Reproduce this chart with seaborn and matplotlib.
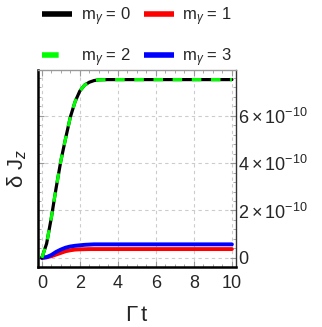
import numpy as np
import pandas as pd
import matplotlib
matplotlib.use('Agg')
import matplotlib.pyplot as plt
import seaborn as sns
from matplotlib.ticker import MultipleLocator, FuncFormatter

# time axis (Gamma t) and curves, in units of 1e-10
t_main = [0, 0.25, 0.5, 0.75, 1.0, 1.25, 1.5, 1.75, 2.0, 2.25, 2.5, 2.75, 3.0, 3.5, 4, 5, 6, 7, 8, 9, 10]
m0 = [0, 0.6, 1.7, 2.95, 4.1, 5.05, 5.95, 6.6, 7.05, 7.3, 7.42, 7.49, 7.52, 7.53, 7.53, 7.53, 7.53, 7.53, 7.53, 7.53, 7.53]
m1 = [0, 0.02, 0.07, 0.14, 0.21, 0.28, 0.32, 0.35, 0.36, 0.365, 0.37, 0.37, 0.37, 0.37, 0.37, 0.37, 0.37, 0.37, 0.37, 0.37, 0.37]
m2 = m0
m3 = [0, 0.03, 0.12, 0.25, 0.35, 0.43, 0.48, 0.51, 0.53, 0.55, 0.56, 0.57, 0.57, 0.57, 0.57, 0.57, 0.57, 0.57, 0.57, 0.57, 0.57]
labels = [r'm$_\gamma$ = 0', r'm$_\gamma$ = 1', r'm$_\gamma$ = 2', r'm$_\gamma$ = 3']
colors = ['black', '#ff0000', '#00ff00', '#0000ff']

sns.set_style('white')
plt.rcParams['font.family'] = ['Liberation Sans', 'DejaVu Sans']
plt.rcParams['mathtext.fontset'] = 'custom'
plt.rcParams['mathtext.rm'] = 'Liberation Sans'
plt.rcParams['mathtext.it'] = 'Liberation Sans:italic'
plt.rcParams['mathtext.sf'] = 'Liberation Sans'

df = pd.DataFrame({'t': t_main, 'm0': np.array(m0) * 1e-10, 'm1': np.array(m1) * 1e-10,
                   'm2': np.array(m2) * 1e-10, 'm3': np.array(m3) * 1e-10})

fig = plt.figure(figsize=(3.22, 3.27), dpi=100)
ax = fig.add_axes([0.117, 0.184, 0.615, 0.603])

sns.lineplot(data=df, x='t', y='m1', color=colors[1], lw=2.8, ax=ax, label=labels[1])
sns.lineplot(data=df, x='t', y='m3', color=colors[3], lw=2.8, ax=ax, label=labels[3])
sns.lineplot(data=df, x='t', y='m0', color=colors[0], lw=2.3, ax=ax, label=labels[0])
sns.lineplot(data=df, x='t', y='m2', color=colors[2], lw=2.3, ax=ax, label=labels[2],
             dashes=False)
ax.lines[-1].set_dashes([3.0, 3.0])

ax.set_xlim(-0.22, 10.2)
ax.set_ylim(-0.38e-10, 7.95e-10)

ax.xaxis.set_major_locator(MultipleLocator(2))
ax.xaxis.set_minor_locator(MultipleLocator(0.5))
ax.yaxis.set_major_locator(MultipleLocator(2e-10))
ax.yaxis.set_minor_locator(MultipleLocator(0.4e-10))

def yfmt(v, pos):
    k = int(round(v / 1e-10))
    if k == 0:
        return '0'
    return r'$%d\times10^{-10}$' % k

ax.yaxis.set_major_formatter(FuncFormatter(yfmt))
ax.yaxis.tick_right()
ax.tick_params(axis='both', which='both', direction='in', color='#999999',
               top=True, bottom=True, left=True, right=True, labelsize=13)
ax.tick_params(axis='y', labelleft=False, labelright=True, pad=2)
ax.tick_params(axis='x', pad=6)
ax.tick_params(which='major', length=4, width=0.8)
ax.tick_params(which='minor', length=2, width=0.6)

ax.grid(True, which='major', ls=(0, (3, 3)), color='#cccccc', lw=0.8)

ax.spines['left'].set_color('black')
ax.spines['left'].set_linewidth(1.8)
ax.spines['bottom'].set_color('black')
ax.spines['bottom'].set_linewidth(1.8)
ax.spines['top'].set_color('#999999')
ax.spines['top'].set_linewidth(1.0)
ax.spines['right'].set_color('#333333')
ax.spines['right'].set_linewidth(1.0)

ax.set_xlabel(r'$\Gamma\,$t', fontsize=16, labelpad=9)
ax.yaxis.set_label_position('left')
ax.set_ylabel('δ J$_z$', fontsize=16)
ax.yaxis.set_label_coords(-0.045, 0.5)

handles, labs = ax.get_legend_handles_labels()
order = [labs.index(labels[0]), labs.index(labels[2]), labs.index(labels[1]), labs.index(labels[3])]
ax.get_legend().remove()
leg = fig.legend([handles[i] for i in order], [labs[i] for i in order], ncol=2,
                 loc='upper left', bbox_to_anchor=(0.085, 1.03), frameon=False,
                 fontsize=12, handlelength=1.8, handletextpad=0.5, columnspacing=0.8,
                 labelspacing=1.1)
for h in leg.legend_handles:
    h.set_linewidth(4)
    h.set_solid_capstyle('butt')
    h.set_dash_capstyle('butt')

fig.savefig('out.png', dpi=100)
plt.close(fig)
